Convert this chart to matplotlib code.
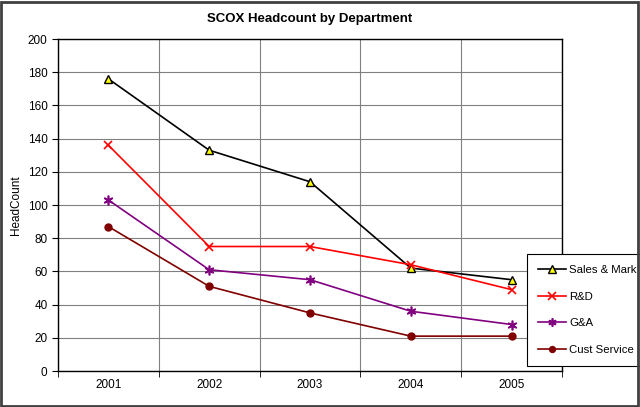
import matplotlib
matplotlib.use("Agg")
import matplotlib.pyplot as plt
from matplotlib.patches import Rectangle

years = ["2001", "2002", "2003", "2004", "2005"]
sales = [176, 133, 114, 62, 55]
rnd = [136, 75, 75, 64, 49]
gna = [103, 61, 55, 36, 28]
cust = [87, 51, 35, 21, 21]

plt.rcParams['font.family'] = ['Liberation Sans', 'DejaVu Sans']
fig = plt.figure(figsize=(6.4, 4.07), dpi=100)
fig.patches.append(Rectangle((0.002, 0.003), 0.995, 0.993, transform=fig.transFigure,
                             fill=False, edgecolor='#404040', linewidth=2))
ax = fig.add_axes([58/640, 1-371/407, (562-58)/640, (371-39)/407])
x = list(range(len(years)))
ax.plot(x, sales, color='black', lw=1.2, marker='^', ms=6, mfc='#ffff00', mec='black', mew=1, label='Sales & Mark')
ax.plot(x, rnd, color='#ff0000', lw=1.2, marker='x', ms=6, mew=1.2, label='R&D')
ax.plot(x, gna, color='#800080', lw=1.2, marker=(6, 2, 0), ms=7, mew=1.2, label='G&A')
ax.plot(x, cust, color='#800000', lw=1.2, marker='o', ms=5, label='Cust Service')
ax.set_xlim(-0.5, 4.5)
ax.set_ylim(0, 200)
ax.set_yticks(range(0, 201, 20))
ax.set_xticks(x)
ax.set_xticklabels(years)
ax.set_xticks([i + 0.5 for i in range(-1, 5)], minor=True)
ax.grid(True, which='major', axis='y', color='#808080', lw=0.8)
ax.grid(True, which='minor', axis='x', color='#808080', lw=0.8)
ax.tick_params(which='major', axis='x', length=0, labelsize=8.5, pad=6)
ax.tick_params(which='minor', axis='x', length=4, direction='out')
ax.tick_params(axis='y', labelsize=8.5, length=4)
for s in ax.spines.values():
    s.set_color('black')
    s.set_linewidth(1)
ax.set_ylabel('HeadCount', fontsize=8.5)
ax.set_title('SCOX Headcount by Department', fontsize=9.5, fontweight='bold', pad=12)
leg = ax.legend(loc='upper left', bbox_to_anchor=(527/640, 1-254/407), bbox_transform=fig.transFigure,
                fontsize=8.2, frameon=True, fancybox=False, edgecolor='black', framealpha=1,
                labelspacing=1.45, handlelength=2.4, handletextpad=0.3, borderpad=1.0,
                borderaxespad=0, markerscale=0.85)
leg.get_frame().set_linewidth(0.8)
fig.savefig('out.png', dpi=100)
